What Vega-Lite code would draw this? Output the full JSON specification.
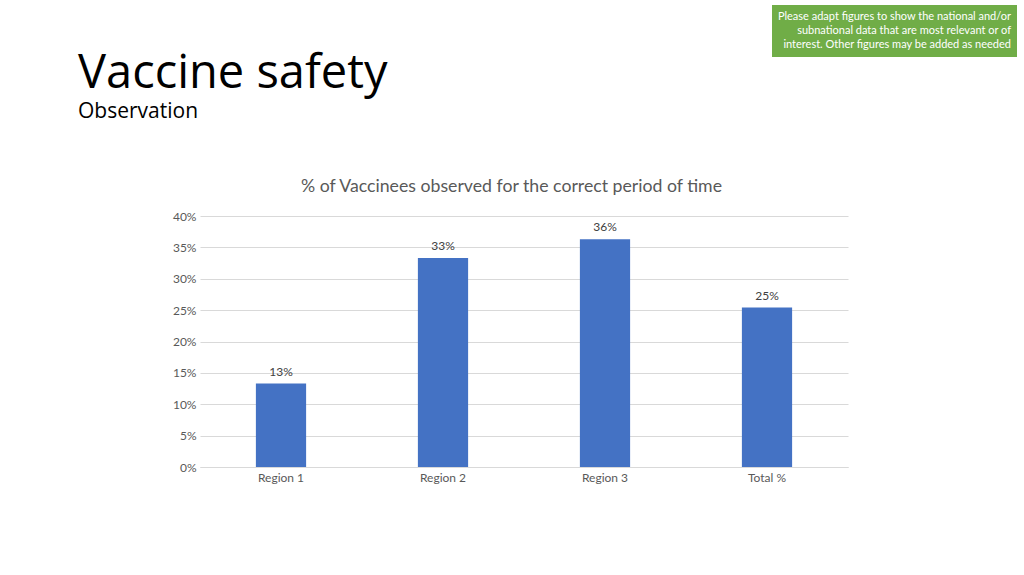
{
  "$schema": "https://vega.github.io/schema/vega-lite/v6.json",
  "autosize": "none",
  "width": 648,
  "height": 251,
  "padding": {"left": 200, "top": 216, "right": 176, "bottom": 108},
  "background": "white",
  "title": {
    "text": "Vaccine safety",
    "subtitle": "Observation",
    "anchor": "start",
    "frame": "group",
    "dx": -122,
    "dy": 118,
    "font": "Open Sans",
    "fontSize": 47,
    "fontWeight": "normal",
    "color": "#000000",
    "subtitleFont": "Open Sans",
    "subtitleFontSize": 21,
    "subtitleColor": "#000000",
    "subtitlePadding": 3,
    "offset": 0
  },
  "config": {
    "view": {"stroke": null},
    "axis": {"labelFont": "Lato", "labelFontSize": 12, "labelColor": "#595959", "titleFont": "Lato"}
  },
  "data": {
    "values": [
      {"region": "Region 1", "share": 0.133},
      {"region": "Region 2", "share": 0.333},
      {"region": "Region 3", "share": 0.363},
      {"region": "Total %", "share": 0.254}
    ]
  },
  "encoding": {
    "x": {
      "field": "region",
      "type": "nominal",
      "sort": null,
      "scale": {"paddingInner": 0.69, "paddingOuter": 0.345}
    },
    "y": {
      "field": "share",
      "type": "quantitative",
      "scale": {"domain": [0, 0.4]},
      "axis": {
        "title": null,
        "format": ".0%",
        "values": [0, 0.05, 0.1, 0.15, 0.2, 0.25, 0.3, 0.35, 0.4],
        "ticks": false,
        "domain": false,
        "gridColor": "#D9D9D9",
        "labelPadding": 4
      }
    }
  },
  "layer": [
    {
      "mark": {"type": "bar"},
      "encoding": {
        "x": {
          "field": "region",
          "type": "nominal",
          "sort": null,
          "axis": {
            "title": null,
            "labelAngle": 0,
            "ticks": false,
            "domainColor": "#D9D9D9",
            "labelPadding": 5
          }
        },
        "color": {
          "datum": "note",
          "scale": {"range": ["#4472C4"]},
          "legend": {
            "orient": "none",
            "legendX": 572,
            "legendY": -211,
            "title": [
              "Please adapt figures to show the national and/or",
              "subnational data that are most relevant or of",
              "interest. Other figures may be added as needed"
            ],
            "titleFont": "Lato",
            "titleFontSize": 11,
            "titleFontWeight": "normal",
            "titleColor": "white",
            "titleAlign": "right",
            "titleAnchor": "end",
            "titleLimit": 400,
            "titleLineHeight": 14,
            "titlePadding": 0,
            "fillColor": "#70AD47",
            "padding": 6,
            "symbolType": "circle",
            "symbolSize": 0,
            "symbolOpacity": 0,
            "symbolFillColor": "transparent",
            "symbolStrokeColor": "transparent",
            "symbolStrokeWidth": 0,
            "labelExpr": "''",
            "labelFontSize": 1,
            "labelColor": "transparent"
          }
        }
      }
    },
    {
      "mark": {"type": "text", "baseline": "bottom", "dy": -5, "font": "Lato", "fontSize": 12, "color": "#404040"},
      "encoding": {
        "x": {
          "field": "region",
          "type": "nominal",
          "sort": null,
          "axis": {
            "orient": "top",
            "labels": false,
            "ticks": false,
            "domain": false,
            "grid": false,
            "title": "% of Vaccinees observed for the correct period of time",
            "titleFontSize": 17.7,
            "titleFontWeight": "normal",
            "titleColor": "#595959",
            "titlePadding": 21,
            "titleX": 311
          }
        },
        "text": {"field": "share", "type": "quantitative", "format": ".0%"}
      }
    }
  ],
  "resolve": {"axis": {"x": "independent"}}
}
